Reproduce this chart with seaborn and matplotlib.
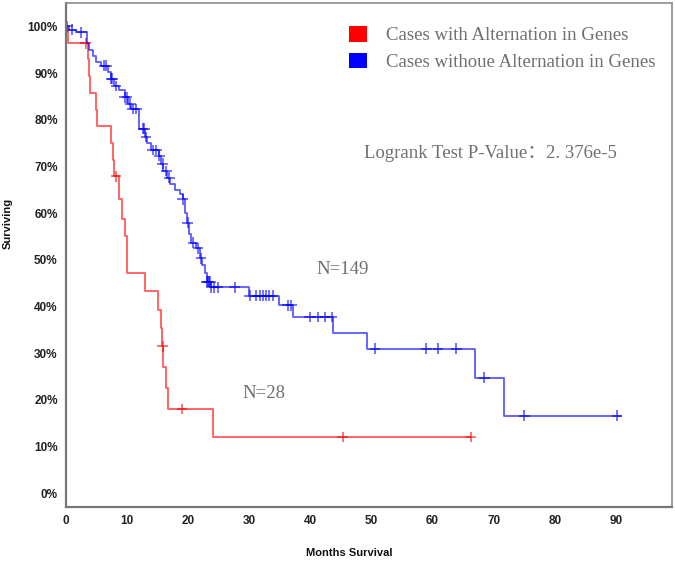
import numpy as np
import pandas as pd
import seaborn as sns
import matplotlib.pyplot as plt
from matplotlib.patches import Patch

# Kaplan-Meier steps (months, % surviving after the step)
red_times = [0, 0.3, 3.6, 3.8, 4.0, 4.9, 5.1, 7.3, 7.7, 7.9, 8.6, 9.1, 9.6, 10.0,
             13.0, 15.1, 15.5, 15.7, 15.9, 16.3, 16.7, 24.0]
red_surv = [100, 96.4, 92.9, 89.3, 85.7, 82.1, 78.6, 75.0, 71.4, 67.9, 63.0, 58.8, 55.0, 47.2,
            43.2, 39.3, 35.4, 31.4, 27.0, 22.5, 18.0, 12.0]
red_end = 66.3
red_censor = [3.2, 8.2, 15.8, 19.0, 45.3, 66.3]

blue_times = [0, 0.5, 1.6, 3.4, 3.8, 4.4, 4.9, 5.7, 6.8, 7.4, 7.9, 8.7, 9.6, 10.2, 10.6,
              11.9, 12.0, 12.9, 13.3, 13.9, 15.2, 15.5, 15.9, 16.5, 17.0, 17.8, 18.6, 19.1,
              19.4, 19.8, 20.2, 20.5, 21.3, 21.9, 22.3, 22.7, 23.0, 23.7, 30.0, 34.8, 37.2,
              43.7, 49.3, 66.9, 71.7]
blue_surv = [100, 99.3, 98.7, 96.5, 95.0, 93.6, 92.3, 91.6, 90.2, 88.8, 87.2, 86.3, 84.8, 83.4, 82.3,
             80.7, 78.1, 76.3, 74.9, 73.5, 72.3, 70.6, 69.0, 67.6, 66.3, 64.9, 64.0, 62.9,
             59.9, 57.9, 55.6, 53.6, 52.4, 50.3, 48.9, 47.1, 45.3, 44.1, 42.3, 40.2, 37.7,
             34.3, 30.9, 24.7, 16.6]
blue_end = 90.9
blue_censor = [0.2, 1.0, 2.5, 6.3, 6.6, 7.4, 7.6, 8.2, 9.6, 10.0, 10.5, 10.9, 11.5, 12.6, 12.8,
               13.1, 14.2, 14.8, 15.3, 15.8, 16.4, 16.9, 19.1, 19.9, 20.8, 21.6, 22.1,
               23.0, 23.2, 23.4, 23.6, 23.8, 24.3, 24.9, 27.6, 30.1, 31.1, 31.7, 32.2, 32.8,
               33.3, 33.9, 36.3, 36.9, 39.9, 41.2, 42.4, 43.5, 50.6, 59.0, 60.9, 63.9,
               68.5, 75.0, 90.2]

labels = ["Cases with Alternation in Genes", "Cases withoue Alternation in Genes"]
colors = ["#ff0000", "#0000ff"]
n_labels = ["N=28", "N=149"]
pvalue_text = "Logrank Test P-Value：2. 376e-5"
y_ticks = list(range(0, 101, 10))
x_ticks = list(range(0, 91, 10))


def step_frame(times, surv, end, group):
    t = list(times) + [end]
    s = list(surv) + [surv[-1]]
    return pd.DataFrame({"months": t, "surv": s, "group": group})


def censor_frame(times, surv, censor, group):
    idx = np.searchsorted(times, censor, side="right") - 1
    return pd.DataFrame({"months": censor, "surv": np.array(surv)[idx], "group": group})


steps = pd.concat([step_frame(red_times, red_surv, red_end, labels[0]),
                   step_frame(blue_times, blue_surv, blue_end, labels[1])])
marks = pd.concat([censor_frame(red_times, red_surv, red_censor, labels[0]),
                   censor_frame(blue_times, blue_surv, blue_censor, labels[1])])

sns.set_style("white")
plt.rcParams["font.family"] = ["Liberation Sans", "DejaVu Sans"]

W, H = 675, 561
fig = plt.figure(figsize=(W / 100, H / 100), dpi=100)
ax = fig.add_axes([66 / W, 1 - 507 / H, 606 / W, 504 / H])

palette = dict(zip(labels, colors))
sns.lineplot(data=steps, x="months", y="surv", hue="group", palette=palette,
             estimator=None, sort=False, drawstyle="steps-post", lw=1.3, alpha=0.65,
             legend=False, ax=ax)
sns.scatterplot(data=marks, x="months", y="surv", hue="group", palette=palette,
                marker="+", s=60, linewidth=1.1, alpha=0.7, legend=False, ax=ax)

ax.set_xlim(0, 99.2)
ax.set_ylim(-3, 105)
ax.set_xticks(x_ticks)
ax.set_yticks(y_ticks)
ax.set_yticklabels([f"{v}%" for v in y_ticks])
ax.tick_params(axis="both", direction="out", length=4, width=1, color="#777777",
               labelsize=8.5, labelcolor="#222222", pad=2)
for lab in ax.get_xticklabels() + ax.get_yticklabels():
    lab.set_fontweight("bold")
ax.set_xlabel("")
ax.set_ylabel("")

for side in ["left", "bottom"]:
    ax.spines[side].set_color("#777777")
    ax.spines[side].set_linewidth(1.6)
for side in ["top", "right"]:
    ax.spines[side].set_color("#8c8c8c")
    ax.spines[side].set_linewidth(1.2)

serif = ["Liberation Serif", "Noto Sans CJK SC"]
grey = "#707070"


def px(x, y):
    return x / W, 1 - y / H


handles = [Patch(facecolor=c, edgecolor="none") for c in colors]
fig.legend(handles, labels, loc="upper left", bbox_to_anchor=px(349, 26), frameon=False,
           borderpad=0, borderaxespad=0, handlelength=0.95, handleheight=0.9,
           handletextpad=1.0, labelspacing=0.45,
           prop={"family": serif, "size": 13.5}, labelcolor=grey)

fig.text(*px(364, 153), pvalue_text, family=serif, fontsize=13.5, color=grey,
         ha="left", va="center")
fig.text(*px(316, 270), n_labels[1], family=serif, fontsize=13.5, color=grey,
         ha="left", va="center")
fig.text(*px(242, 393), n_labels[0], family=serif, fontsize=13.5, color=grey,
         ha="left", va="center")

fig.text(*px(349, 553), "Months Survival", fontsize=8, fontweight="bold",
         ha="center", va="center", color="#111111")
fig.text(*px(8, 223), "Surviving", fontsize=8, fontweight="bold", rotation=90,
         ha="center", va="center", color="#111111")

fig.savefig("out.png", dpi=100)
